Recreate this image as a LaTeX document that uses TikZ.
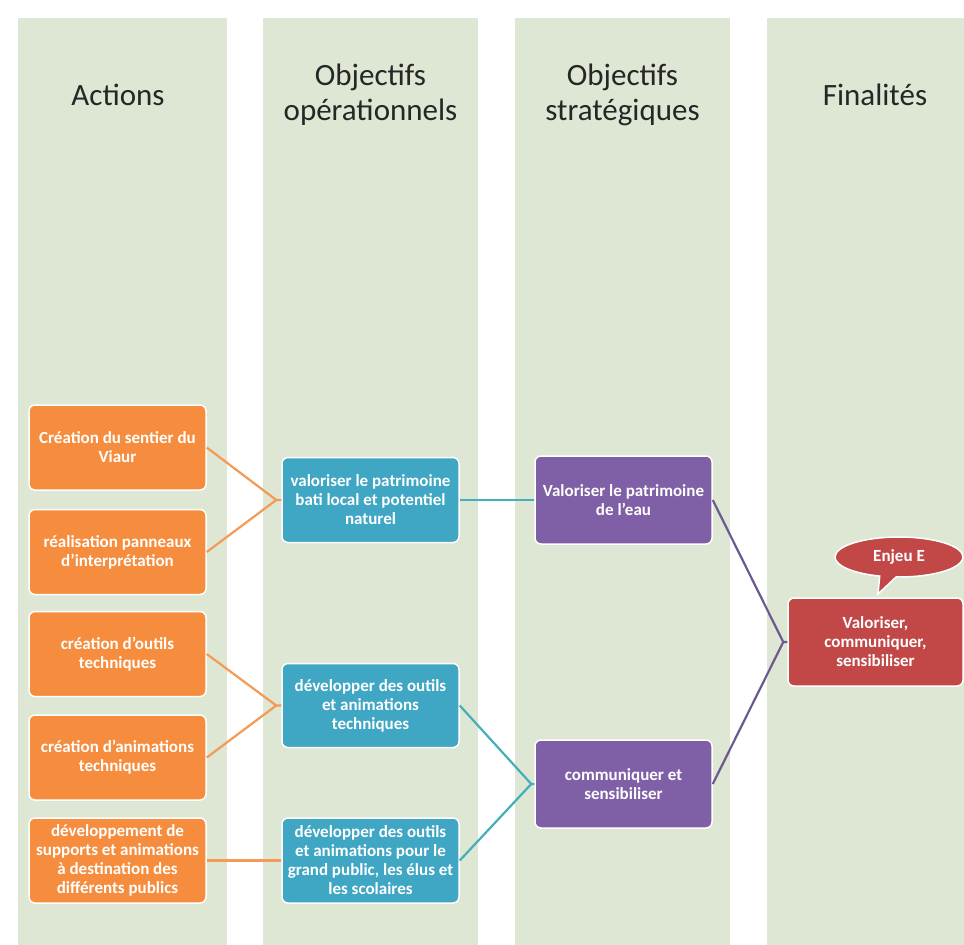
\documentclass[tikz,border=0pt]{standalone}
\usepackage{fontspec}
\setmainfont{Carlito}
\usetikzlibrary{shapes.callouts}
\definecolor{colbg}{HTML}{DEE6D4}
\definecolor{orangebox}{HTML}{F68D3E}
\definecolor{bluebox}{HTML}{3FA6C4}
\definecolor{purplebox}{HTML}{7F5FA6}
\definecolor{redbox}{HTML}{C24848}
\definecolor{titlecol}{HTML}{262626}
\definecolor{oline}{HTML}{F49A55}
\definecolor{bline}{HTML}{45AEBB}
\definecolor{pline}{HTML}{6B5A90}
\begin{document}
\begin{tikzpicture}[x=1pt,y=-1pt,
  colband/.style={fill=colbg,draw=none},
  title/.style={text=titlecol,font=\fontsize{31}{35}\selectfont,align=center},
  box/.style={rectangle,rounded corners=6pt,draw=white,line width=1.5pt,text=white,
    font=\fontsize{17}{19}\selectfont\bfseries,align=center,inner sep=2pt,
    minimum width=177pt},
  actbox/.style={box,fill=orangebox,minimum height=85pt},
  opbox/.style={box,fill=bluebox,minimum height=85pt},
  stbox/.style={box,fill=purplebox,minimum height=88pt},
  finbox/.style={box,fill=redbox,minimum height=88pt,minimum width=175pt},
  oconn/.style={draw=oline,line width=2.2pt},
  bconn/.style={draw=bline,line width=2.2pt},
  pconn/.style={draw=pline,line width=2.2pt}]
\useasboundingbox (0,0) rectangle (964,945);
\fill[white] (0,0) rectangle (964,945);
% column bands
\path[colband] (18,18) rectangle (227,945);
\path[colband] (263,18) rectangle (478,945);
\path[colband] (515,18) rectangle (730,945);
\path[colband] (767,18) rectangle (964,945);
% titles
\node[title] (tA) at (118,95) {Actions};
\node[title] (tB) at (370.5,95) {Objectifs\\opérationnels};
\node[title] (tC) at (622.5,95) {Objectifs\\stratégiques};
\node[title] (tD) at (875,95) {Finalités};
% actions
\node[actbox] (a1) at (117.5,447.5) {Création du sentier du\\Viaur};
\node[actbox] (a2) at (117.5,552) {réalisation panneaux\\d'interprétation};
\node[actbox] (a3) at (117.5,654) {création d'outils\\techniques};
\node[actbox] (a4) at (117.5,757.5) {création d'animations\\techniques};
\node[actbox] (a5) at (117.5,860.5) {développement de\\supports et animations\\à destination des\\différents publics};
% operational objectives
\node[opbox] (b1) at (370.5,500) {valoriser le patrimoine\\bati local et potentiel\\naturel};
\node[opbox,minimum height=84pt] (b2) at (370.5,705.5) {développer des outils\\et animations\\techniques};
\node[opbox] (b3) at (370.5,860.5) {développer des outils\\et animations pour le\\grand public, les élus et\\les scolaires};
% strategic objectives
\node[stbox] (p1) at (623.5,500) {Valoriser le patrimoine\\de l'eau};
\node[stbox] (p2) at (623.5,784) {communiquer et\\sensibiliser};
% finality
\node[finbox] (f1) at (875.5,642) {Valoriser,\\communiquer,\\sensibiliser};
\node[ellipse callout,fill=redbox,draw=white,line width=1.5pt,text=white,
  font=\fontsize{17}{19}\selectfont\bfseries,minimum width=128pt,minimum height=40pt,
  inner sep=1pt,callout absolute pointer={(878,594)}] (enjeu) at (899,557) {Enjeu E};
% connectors
\draw[oconn] (a1.east) -- ([xshift=-5pt]b1.west) -- (b1.west);
\draw[oconn] (a2.east) -- ([xshift=-5pt]b1.west);
\draw[oconn] (a3.east) -- ([xshift=-5pt]b2.west) -- (b2.west);
\draw[oconn] (a4.east) -- ([xshift=-5pt]b2.west);
\draw[oconn] (a5.east) -- (b3.west);
\draw[bconn] (b1.east) -- (p1.west);
\draw[bconn] (b2.east) -- ([xshift=-3pt]p2.west) -- (p2.west);
\draw[bconn] (b3.east) -- ([xshift=-3pt]p2.west);
\draw[pconn] (p1.east) -- ([xshift=-4pt]f1.west) -- (f1.west);
\draw[pconn] (p2.east) -- ([xshift=-4pt]f1.west);
\end{tikzpicture}
\end{document}
